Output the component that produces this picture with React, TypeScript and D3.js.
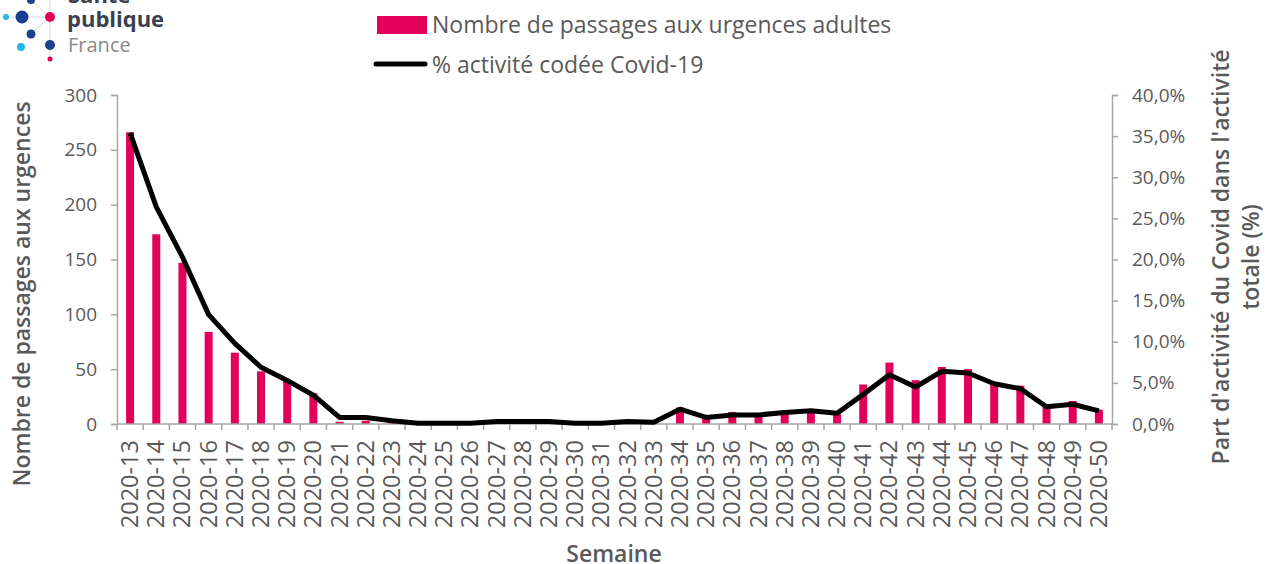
import { useEffect, useRef } from 'react'
import * as d3 from 'd3'

const weeks = [
  '2020-13', '2020-14', '2020-15', '2020-16', '2020-17', '2020-18', '2020-19', '2020-20',
  '2020-21', '2020-22', '2020-23', '2020-24', '2020-25', '2020-26', '2020-27', '2020-28',
  '2020-29', '2020-30', '2020-31', '2020-32', '2020-33', '2020-34', '2020-35', '2020-36',
  '2020-37', '2020-38', '2020-39', '2020-40', '2020-41', '2020-42', '2020-43', '2020-44',
  '2020-45', '2020-46', '2020-47', '2020-48', '2020-49', '2020-50',
]

// nombre de passages aux urgences adultes
const passages = [
  266, 173, 147, 84, 65, 48, 39, 28,
  2, 3, 1, 0, 0, 0, 1, 1,
  1, 0, 0, 1, 1, 15, 5, 11,
  10, 12, 12, 9, 36, 56, 40, 52,
  50, 38, 35, 17, 21, 13,
]

// % activité codée Covid-19
const pctCovid = [
  35.4, 26.4, 20.3, 13.3, 9.8, 6.9, 5.3, 3.5,
  0.8, 0.8, 0.4, 0.1, 0.1, 0.1, 0.3, 0.3,
  0.3, 0.1, 0.1, 0.3, 0.2, 1.8, 0.8, 1.1,
  1.1, 1.4, 1.6, 1.3, 3.6, 6.0, 4.5, 6.4,
  6.2, 4.9, 4.3, 2.1, 2.4, 1.6,
]

const leftTicks = [0, 50, 100, 150, 200, 250, 300]
const rightTicks = [0, 5, 10, 15, 20, 25, 30, 35, 40]

const PINK = '#e2005a'
const GREY_TXT = '#595959'
const AXIS = '#a6a6a6'
const FONT = '"Open Sans", sans-serif'

function App() {
  const ref = useRef<SVGSVGElement>(null)

  useEffect(() => {
    const svg = d3.select(ref.current)
    svg.selectAll('*').remove()

    const left = 117, right = 1112, top = 95, bottom = 424

    const x = d3.scaleBand<string>().domain(weeks).range([left, right]).padding(0)
    const yL = d3.scaleLinear().domain([0, 300]).range([bottom, top])
    const yR = d3.scaleLinear().domain([0, 40]).range([bottom, top])

    // bars
    const bw = 8
    svg.append('g')
      .selectAll('rect')
      .data(passages)
      .join('rect')
      .attr('x', (_d, i) => x(weeks[i])! + x.bandwidth() / 2 - bw / 2)
      .attr('y', d => yL(d))
      .attr('width', bw)
      .attr('height', d => bottom - yL(d))
      .attr('fill', PINK)

    // left axis
    const gL = svg.append('g')
      .attr('transform', `translate(${left},0)`)
      .call(d3.axisLeft(yL).tickValues(leftTicks).tickSize(6).tickPadding(14).tickFormat(d3.format('d')))
    gL.select('.domain').attr('stroke', AXIS).attr('stroke-width', 1.5)
    gL.selectAll('.tick line').attr('stroke', AXIS).attr('stroke-width', 1.5)
    gL.selectAll('.tick text').attr('fill', GREY_TXT).style('font-size', '19px').style('font-family', FONT)

    // right axis
    const gR = svg.append('g')
      .attr('transform', `translate(${right},0)`)
      .call(d3.axisRight(yR).tickValues(rightTicks).tickSize(6).tickPadding(14)
        .tickFormat(d => d3.format('.1f')(d as number).replace('.', ',') + '%'))
    gR.select('.domain').attr('stroke', AXIS).attr('stroke-width', 1.5)
    gR.selectAll('.tick line').attr('stroke', AXIS).attr('stroke-width', 1.5)
    gR.selectAll('.tick text').attr('fill', GREY_TXT).style('font-size', '19px').style('font-family', FONT)

    // x axis
    const gX = svg.append('g').attr('transform', `translate(0,${bottom})`)
    gX.append('line').attr('x1', left).attr('x2', right).attr('stroke', AXIS).attr('stroke-width', 1.5)
    const bounds = weeks.map(w => x(w)!).concat([right])
    gX.selectAll('line.t')
      .data(bounds)
      .join('line')
      .attr('class', 't')
      .attr('x1', d => d).attr('x2', d => d)
      .attr('y1', 0).attr('y2', 6)
      .attr('stroke', AXIS).attr('stroke-width', 1.5)
    gX.selectAll('text')
      .data(weeks)
      .join('text')
      .attr('transform', d => `translate(${x(d)! + x.bandwidth() / 2 + 8},16) rotate(-90)`)
      .attr('text-anchor', 'end')
      .attr('fill', GREY_TXT)
      .style('font-size', '23.5px')
      .style('font-family', FONT)
      .text(d => d)

    // line
    const line = d3.line<number>()
      .x((_d, i) => x(weeks[i])! + x.bandwidth() / 2)
      .y(d => yR(d))
    svg.append('path')
      .datum(pctCovid)
      .attr('d', line)
      .attr('fill', 'none')
      .attr('stroke', '#000')
      .attr('stroke-width', 5)
      .attr('stroke-linejoin', 'round')

    // axis titles
    svg.append('text')
      .attr('transform', `translate(30,294) rotate(-90)`)
      .attr('text-anchor', 'middle')
      .attr('fill', GREY_TXT)
      .style('font-size', '23px').style('font-weight', 600).style('font-family', FONT)
      .text('Nombre de passages aux urgences')
    svg.append('text')
      .attr('transform', `translate(1229,257) rotate(-90)`)
      .attr('text-anchor', 'middle')
      .attr('fill', GREY_TXT)
      .style('font-size', '23px').style('font-weight', 600).style('font-family', FONT)
      .text("Part d'activité du Covid dans l'activité")
    svg.append('text')
      .attr('transform', `translate(1259,257) rotate(-90)`)
      .attr('text-anchor', 'middle')
      .attr('fill', GREY_TXT)
      .style('font-size', '23px').style('font-weight', 600).style('font-family', FONT)
      .text('totale (%)')
    svg.append('text')
      .attr('x', 614).attr('y', 562)
      .attr('text-anchor', 'middle')
      .attr('fill', GREY_TXT)
      .style('font-size', '23px').style('font-weight', 600).style('font-family', FONT)
      .text('Semaine')

    // legend
    const lg = svg.append('g')
    lg.append('rect').attr('x', 377).attr('y', 16).attr('width', 50).attr('height', 18).attr('fill', PINK)
    lg.append('text').attr('x', 432).attr('y', 33).attr('fill', GREY_TXT)
      .style('font-size', '23px').style('font-family', FONT)
      .text('Nombre de passages aux urgences adultes')
    lg.append('line').attr('x1', 376).attr('x2', 425).attr('y1', 64).attr('y2', 64)
      .attr('stroke', '#000').attr('stroke-width', 5).attr('stroke-linecap', 'round')
    lg.append('text').attr('x', 432).attr('y', 73).attr('fill', GREY_TXT)
      .style('font-size', '23px').style('font-family', FONT)
      .text('% activité codée Covid-19')

    // logo
    const logo = svg.append('g')
    const navy = '#1d3f8f', cyan = '#1fb6ea'
    const links: [number, number, number, number][] = [
      [6, 17, 50, 17], [31, 0, 50, 17], [31, 34, 50, 17], [50, 0, 50, 59],
    ]
    logo.selectAll('line').data(links).join('line')
      .attr('x1', d => d[0]).attr('y1', d => d[1]).attr('x2', d => d[2]).attr('y2', d => d[3])
      .attr('stroke', '#d8d8e0').attr('stroke-width', 1)
    const dots: [number, number, number, string][] = [
      [22, 17, 6.5, navy], [50, 17, 5, PINK], [6, 17, 3, cyan], [31, 0, 4, navy],
      [31, 34, 4.5, navy], [21, 47, 4, cyan], [50, 45, 5, navy], [50, 59, 2.5, PINK],
    ]
    logo.selectAll('circle').data(dots).join('circle')
      .attr('cx', d => d[0]).attr('cy', d => d[1]).attr('r', d => d[2]).attr('fill', d => d[3])
    logo.append('text').attr('x', 68).attr('y', 3).attr('fill', '#3b3f4f')
      .style('font-size', '22px').style('font-weight', 700).style('font-family', FONT).text('Santé')
    logo.append('text').attr('x', 67).attr('y', 27).attr('fill', '#3b3f4f')
      .style('font-size', '22px').style('font-weight', 700).style('font-family', FONT).text('publique')
    logo.append('text').attr('x', 68).attr('y', 52).attr('fill', '#8a8a8a')
      .style('font-size', '20px').style('font-family', FONT).text('France')
  }, [])

  return (
    <svg ref={ref} width={1267} height={564}
      style={{ position: 'absolute', left: 0, top: 0, background: '#fff' }} />
  )
}

export default App
